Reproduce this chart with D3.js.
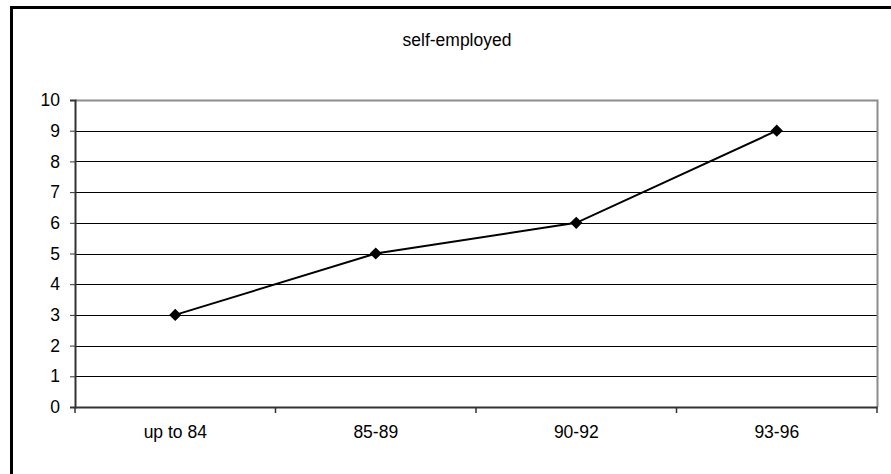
<!DOCTYPE html>
<html><head><meta charset="utf-8">
<script src="https://cdn.jsdelivr.net/npm/d3@7"></script>
<style>body{margin:0;background:#fff;}svg{display:block;font-family:"Liberation Sans",Arial,sans-serif;}</style>
</head><body>
<svg id="c" width="891" height="474"></svg>
<script>
const categories = ["up to 84", "85-89", "90-92", "93-96"];
const values = [3, 5, 6, 9];
const yTicks = [0,1,2,3,4,5,6,7,8,9,10];
const title = "self-employed";

const svg = d3.select("#c");
const L = 75, R = 877, T = 100, B = 407;
const FS = 17.5;
// outer frame
svg.append("rect").attr("x", 11.5).attr("y", 7.5).attr("width", 900).attr("height", 500)
  .attr("fill", "none").attr("stroke", "#000").attr("stroke-width", 3);

svg.append("text").attr("x", 457).attr("y", 46).attr("text-anchor", "middle")
  .attr("font-size", FS).attr("fill", "#000").text(title);

const x = d3.scaleBand().domain(categories).range([L, R]);
const y = d3.scaleLinear().domain([0, 10]).range([B, T]);

// gridlines
svg.append("g").selectAll("line").data(yTicks.filter(d => d > 0 && d < 10)).join("line")
  .attr("x1", L).attr("x2", R).attr("y1", d => Math.round(y(d)) + 0.5).attr("y2", d => Math.round(y(d)) + 0.5)
  .attr("stroke", "#000").attr("stroke-width", 1);
// plot border top/right
svg.append("path").attr("d", `M${L},${T + 0.5}H${R + 0.5}V${B}`).attr("fill", "none")
  .attr("stroke", "#8c8c8c").attr("stroke-width", 2);

// y axis
const yAxis = d3.axisLeft(y).tickValues(yTicks).tickSize(5).tickPadding(10);
const gy = svg.append("g").attr("transform", `translate(${L},0)`).call(yAxis);
gy.select(".domain").attr("stroke", "#333").attr("stroke-width", 2);
gy.selectAll(".tick line").attr("stroke", "#333");
gy.selectAll("text").attr("font-size", FS).attr("fill", "#000").attr("font-family", "Liberation Sans, Arial, sans-serif");

// x axis
const xAxis = d3.axisBottom(x).tickSize(0).tickPadding(19);
const gx = svg.append("g").attr("transform", `translate(0,${B})`).call(xAxis);
gx.select(".domain").attr("stroke", "#333").attr("stroke-width", 2);
gx.selectAll("text").attr("font-size", FS).attr("fill", "#000").attr("font-family", "Liberation Sans, Arial, sans-serif");
// category boundary ticks
const bounds = categories.map(c => x(c)).concat([R]);
svg.append("g").selectAll("line").data(bounds).join("line")
  .attr("x1", d => d).attr("x2", d => d).attr("y1", B).attr("y2", B + 6)
  .attr("stroke", "#333").attr("stroke-width", 1.5);

// line
const line = d3.line().x((d, i) => x(categories[i]) + x.bandwidth() / 2).y(d => y(d));
svg.append("path").datum(values).attr("d", line).attr("fill", "none")
  .attr("stroke", "#000").attr("stroke-width", 2);
// markers
const sym = d3.symbol().type(d3.symbolDiamond2).size(95);
svg.append("g").selectAll("path").data(values).join("path")
  .attr("transform", (d, i) => `translate(${x(categories[i]) + x.bandwidth() / 2},${y(d)})`)
  .attr("d", sym).attr("fill", "#000");
</script>
</body></html>
